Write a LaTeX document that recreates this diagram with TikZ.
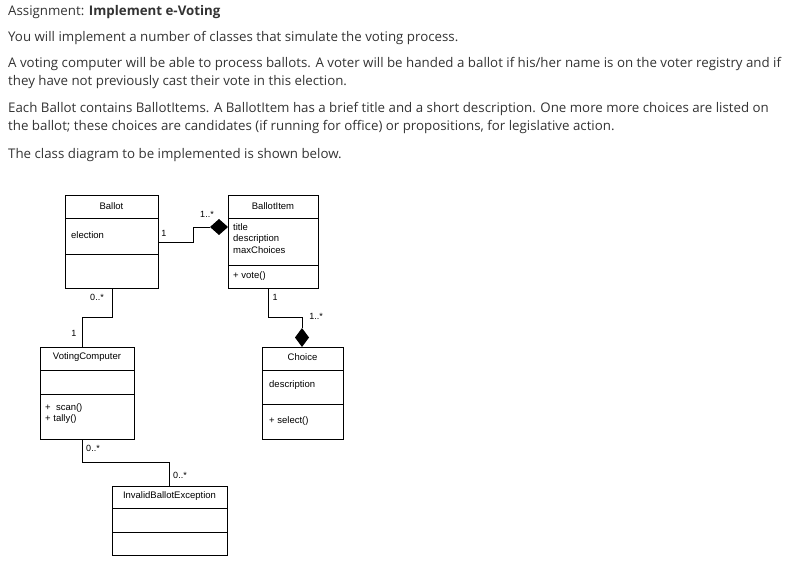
\documentclass[tikz,border=0pt]{standalone}
\usepackage{fontspec}
\setmainfont{Open Sans}
\newfontfamily\arialf{Liberation Sans}
\begin{document}
\begin{tikzpicture}[x=1pt,y=-1pt,
  txt/.style={anchor=west,inner sep=0,font=\fontsize{13.3}{15}\selectfont,text=black!80},
  uml/.style={font=\arialf\fontsize{9.5}{11}\selectfont,inner sep=0},
  box/.style={draw,line width=0.8pt},
  con/.style={line width=0.8pt},
  lbl/.style={font=\arialf\fontsize{9}{10}\selectfont,inner sep=0}]
\useasboundingbox (0,0) rectangle (797,577);
\node[txt] (t1) at (8,12) {Assignment: \textbf{Implement e-Voting}};
\node[txt] (t2) at (8,38) {You will implement a number of classes that simulate the voting process.};
\node[txt] (t3) at (8,64) {A voting computer will be able to process ballots. A voter will be handed a ballot if his/her name is on the voter registry and if};
\node[txt] (t4) at (8,82) {they have not previously cast their vote in this election.};
\node[txt] (t5) at (8,109) {Each Ballot contains BallotItems. A BallotItem has a brief title and a short description. One more more choices are listed on};
\node[txt] (t6) at (8,127) {the ballot; these choices are candidates (if running for office) or propositions, for legislative action.};
\node[txt] (t7) at (8,155) {The class diagram to be implemented is shown below.};
% Ballot
\draw[box] (65,195) rectangle (158,288);
\draw[con] (65,218)--(158,218) (65,254)--(158,254);
\node[uml] (ballot) at (111.5,206) {Ballot};
\node[uml,anchor=west] (ballotA) at (71,235) {election};
% BallotItem
\draw[box] (228,195) rectangle (318,288);
\draw[con] (228,218)--(318,218) (228,265)--(318,265);
\node[uml] (bi) at (273,206) {BallotItem};
\node[uml,anchor=north west,align=left,font=\arialf\fontsize{9.5}{11.5}\selectfont] (biA) at (233,223) {title\\description\\maxChoices};
\node[uml,anchor=west] (biM) at (233,276) {+ vote()};
% VotingComputer
\draw[box] (40,347) rectangle (134,439);
\draw[con] (40,370)--(134,370) (40,394)--(134,394);
\node[uml] (vc) at (87,357) {VotingComputer};
\node[uml,anchor=north west,align=left,font=\arialf\fontsize{9.5}{11.5}\selectfont] (vcM) at (45,403) {+~ scan()\\+ tally()};
% Choice
\draw[box] (262,347) rectangle (343,439);
\draw[con] (262,370)--(343,370) (262,404)--(343,404);
\node[uml] (ch) at (302.5,357) {Choice};
\node[uml,anchor=west] (chA) at (269,385) {description};
\node[uml,anchor=west] (chM) at (269,421) {+ select()};
% InvalidBallotException
\draw[box] (112,486) rectangle (227,555);
\draw[con] (112,508)--(227,508) (112,532)--(227,532);
\node[uml] (ibe) at (169.5,496) {InvalidBallotException};
% connectors
\coordinate (a1) at (158,242);
\coordinate (a2) at (210,227);
\draw[con] (a1) -- (193,242) -- (193,227) -- (a2);
\fill (210,227) -- (219,219) -- (228,227) -- (219,235) -- cycle;
\node[lbl] (l1) at (164,233) {1};
\node[lbl] (l2) at (207,214) {1..*};
\draw[con] (112,288) -- (112,317) -- (82,317) -- (82,347);
\node[lbl] (l3) at (97,297) {0..*};
\node[lbl] (l4) at (74,333) {1};
\draw[con] (268,288) -- (268,317) -- (302,317) -- (302,328);
\fill (302,328) -- (309,337.5) -- (302,347) -- (295,337.5) -- cycle;
\node[lbl] (l5) at (275,297) {1};
\node[lbl] (l6) at (316,316) {1..*};
\draw[con] (82,439) -- (82,462) -- (169,462) -- (169,486);
\node[lbl] (l7) at (93,448) {0..*};
\node[lbl] (l8) at (180,475) {0..*};
\end{tikzpicture}
\end{document}
